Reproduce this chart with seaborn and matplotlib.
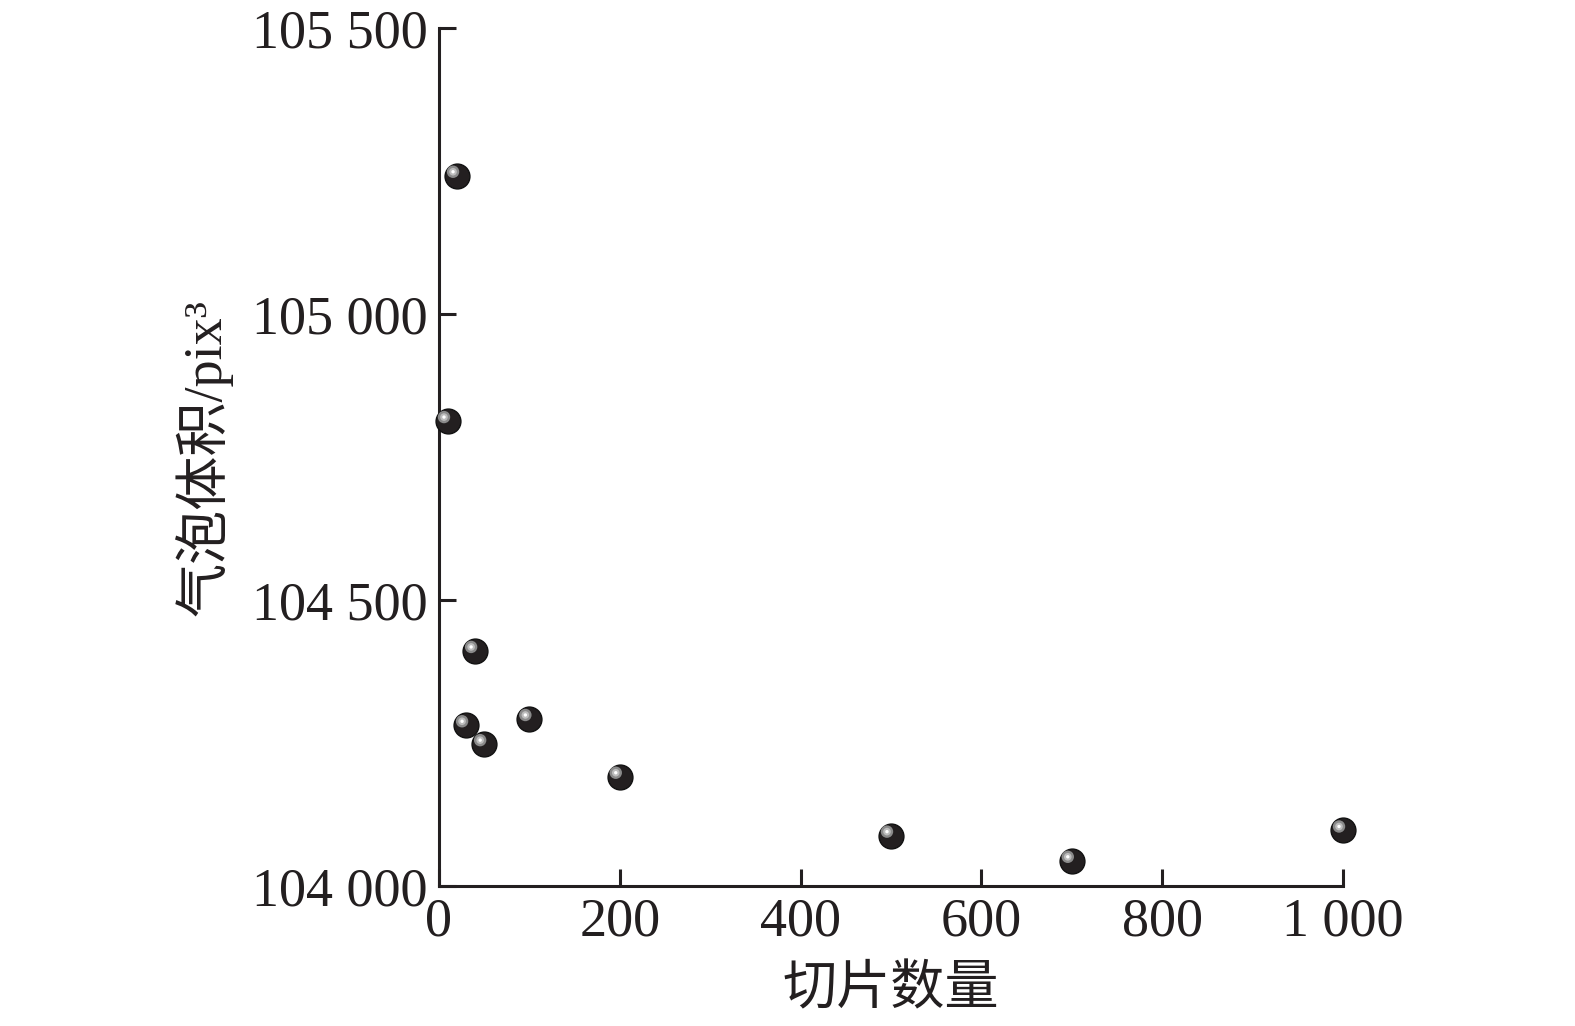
import matplotlib
matplotlib.use("Agg")
import matplotlib.pyplot as plt
import matplotlib.transforms as mtransforms
from matplotlib.ticker import FuncFormatter
import seaborn as sns
import pandas as pd

sns.set_theme(style="ticks")
plt.rcParams['font.family'] = ['Liberation Serif', 'Noto Sans CJK SC']
plt.rcParams['axes.unicode_minus'] = False

# data
slices = [10, 20, 30, 40, 50, 100, 200, 500, 700, 1000]
volume = [104813, 105242, 104281, 104411, 104248, 104292, 104191, 104088, 104044, 104097]

df = pd.DataFrame({"切片数量": slices, "气泡体积": volume})

fig = plt.figure(figsize=(15.75, 10.26), dpi=100)
ax = fig.add_axes([0.2787, 0.1365, 0.574, 0.836])

ink = '#231f20'

# sphere body
sns.scatterplot(data=df, x="切片数量", y="气泡体积", ax=ax, s=320,
                color=ink, edgecolor='#111111', linewidth=1.0, zorder=3,
                clip_on=False)
# highlight layers, shifted up-left
n0 = len(ax.collections)
sns.scatterplot(data=df, x="切片数量", y="气泡体积", ax=ax, s=80,
                color='#8a8a8a', edgecolor='none', linewidth=0, zorder=4,
                clip_on=False)
sns.scatterplot(data=df, x="切片数量", y="气泡体积", ax=ax, s=30,
                color='#bdbdbd', edgecolor='none', linewidth=0, zorder=5,
                clip_on=False)
sns.scatterplot(data=df, x="切片数量", y="气泡体积", ax=ax, s=6,
                color='#ffffff', edgecolor='none', linewidth=0, zorder=6,
                clip_on=False)
shift = mtransforms.ScaledTranslation(-0.04, 0.04, fig.dpi_scale_trans)
for coll in ax.collections[n0:]:
    coll.set_offset_transform(ax.transData + shift)

ax.set_xlim(0, 1000)
ax.set_ylim(104000, 105500)
ax.set_xticks([0, 200, 400, 600, 800, 1000])
ax.set_yticks([104000, 104500, 105000, 105500])

fmt = FuncFormatter(lambda v, p: f"{int(round(v)):,}".replace(",", " "))
ax.xaxis.set_major_formatter(fmt)
ax.yaxis.set_major_formatter(fmt)

sns.despine(ax=ax)
for side in ['left', 'bottom']:
    ax.spines[side].set_linewidth(2.2)
    ax.spines[side].set_color(ink)

ax.tick_params(axis='both', direction='in', length=12, width=2.2, color=ink,
               labelsize=39, labelcolor=ink, pad=8)

ax.set_xlabel("切片数量", fontsize=39, color=ink, labelpad=10,
              family=['Noto Sans CJK SC'])
ax.set_ylabel("气泡体积/pix³", fontsize=39, color=ink, labelpad=14,
              family=['Liberation Serif', 'Noto Sans CJK SC'])

fig.savefig("out.png", dpi=100)
